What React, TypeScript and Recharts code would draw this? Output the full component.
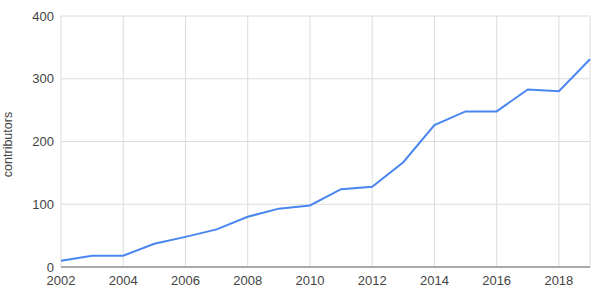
import React from "react";
import {
  LineChart,
  Line,
  XAxis,
  YAxis,
  CartesianGrid,
} from "recharts";

const years = [
  2002, 2003, 2004, 2005, 2006, 2007, 2008, 2009, 2010, 2011, 2012, 2013,
  2014, 2015, 2016, 2017, 2018, 2019,
];
const contributors = [
  10, 18, 18, 37, 48, 60, 80, 93, 98, 124, 128, 167, 226, 248, 248, 283, 280,
  331,
];
const xTicks = [2002, 2004, 2006, 2008, 2010, 2012, 2014, 2016, 2018];
const yTicks = [0, 100, 200, 300, 400];

const data = years.map((year, i) => ({ year, contributors: contributors[i] }));

const font = "Arial, 'Liberation Sans', sans-serif";

// rotated axis title, roughly centred on the plot height
function AxisTitle(props: any) {
  const { viewBox } = props;
  const cx = 8;
  const cy = viewBox.y + viewBox.height / 2 + 3;
  return (
    <text
      x={cx}
      y={cy}
      transform={`rotate(-90 ${cx} ${cy})`}
      textAnchor="middle"
      dominantBaseline="central"
      fontSize={12.5}
      fontFamily={font}
      fill="#444"
    >
      contributors
    </text>
  );
}

export default function App() {
  return (
    <div style={{ position: "absolute", left: 0, top: 0 }}>
      <LineChart
        width={600}
        height={299}
        data={data}
        margin={{ top: 16, right: 10, bottom: 2, left: 0 }}
      >
        <CartesianGrid stroke="#dcdcdc" strokeWidth={1} />
        <XAxis
          dataKey="year"
          type="number"
          domain={[2002, 2019]}
          ticks={xTicks}
          tickLine={false}
          tickMargin={3}
          axisLine={{ stroke: "#666", strokeWidth: 1 }}
          tick={{ fill: "#444", fontSize: 13, fontFamily: font }}
          height={30}
          interval={0}
        />
        <YAxis
          domain={[0, 400]}
          ticks={yTicks}
          width={61}
          tickLine={false}
          axisLine={false}
          tickSize={5}
          tickMargin={2}
          tick={{ fill: "#444", fontSize: 13, fontFamily: font }}
          label={<AxisTitle />}
        />
        <Line
          type="linear"
          dataKey="contributors"
          stroke="#4a86f0"
          strokeWidth={2}
          dot={false}
          isAnimationActive={false}
        />
      </LineChart>
    </div>
  );
}
